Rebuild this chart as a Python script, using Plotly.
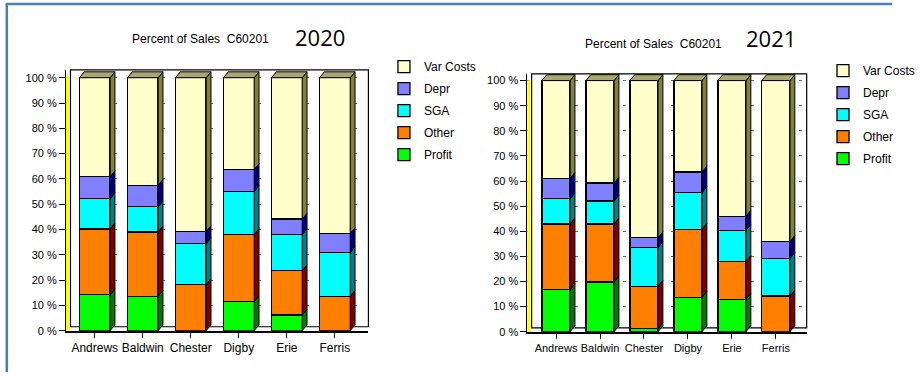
import plotly.graph_objects as go

companies = ["Andrews", "Baldwin", "Chester", "Digby", "Erie", "Ferris"]
series_names = ["Profit", "Other", "SGA", "Depr", "Var Costs"]

# 2020 values (% of sales)
profit_2020 = [14.2, 13.6, 0.0, 11.4, 6.2, 0.0]
other_2020 = [26.0, 25.4, 18.2, 26.6, 17.5, 13.6]
sga_2020 = [12.0, 10.0, 16.2, 17.0, 14.3, 17.3]
depr_2020 = [8.7, 8.5, 4.8, 8.7, 6.1, 7.5]
var_2020 = [39.1, 42.5, 60.8, 36.3, 55.9, 61.6]

# 2021 values (% of sales)
profit_2021 = [16.7, 19.8, 1.2, 13.7, 12.9, 0.0]
other_2021 = [26.2, 23.1, 16.9, 27.0, 15.1, 14.2]
sga_2021 = [10.0, 9.1, 15.4, 14.7, 12.4, 15.0]
depr_2021 = [8.2, 7.2, 3.9, 8.2, 5.6, 6.7]
var_2021 = [38.9, 40.8, 62.6, 36.4, 54.0, 64.1]

y_ticks = [0, 10, 20, 30, 40, 50, 60, 70, 80, 90, 100]
y_tick_labels = ["0 %", "10 %", "20 %", "30 %", "40 %", "50 %", "60 %", "70 %", "80 %", "90 %", "100 %"]

front_colors = ["#00ff00", "#ff8000", "#00ffff", "#8080ff", "#ffffcc"]
side_colors = ["#007a00", "#800000", "#008080", "#000080", "#808040"]
top_color = "#a8a870"

W, H = 920, 378
BAR_W = 0.64
DEPTH_PX = (5, 6)

fig = go.Figure()

panels = [
    dict(year="2020", data=[profit_2020, other_2020, sga_2020, depr_2020, var_2020],
         xa="x", ya="y", legend="legend",
         xdom_px=(68, 380), ydom_px=(71, 336), xr=[-0.6, 5.7], yr=[0, 103.1]),
    dict(year="2021", data=[profit_2021, other_2021, sga_2021, depr_2021, var_2021],
         xa="x2", ya="y2", legend="legend2",
         xdom_px=(544, 832), ydom_px=(75, 337), xr=[-0.65, 5.7], yr=[0, 102.7]),
]

shapes = []
for p in panels:
    n_series = len(series_names)
    for k, (name, vals, col) in enumerate(zip(series_names, p["data"], front_colors)):
        fig.add_trace(go.Bar(
            x=companies, y=vals, name=name, xaxis=p["xa"], yaxis=p["ya"],
            legend=p["legend"], legendgroup=p["year"] + name, legendrank=n_series - k,
            width=BAR_W,
            marker=dict(color=col, line=dict(color="black", width=1.3)),
            hovertemplate="%{x}<br>" + name + ": %{y:.1f}%<extra></extra>",
        ))
    # data units per pixel for 3D side faces
    x_upp = (p["xr"][1] - p["xr"][0]) / (p["xdom_px"][1] - p["xdom_px"][0])
    y_upp = (p["yr"][1] - p["yr"][0]) / (p["ydom_px"][1] - p["ydom_px"][0])
    dx = DEPTH_PX[0] * x_upp
    dy = DEPTH_PX[1] * y_upp
    for i in range(len(companies)):
        base = 0.0
        xr_edge = i + BAR_W / 2
        xl_edge = i - BAR_W / 2
        for s, vals in enumerate(p["data"]):
            v = vals[i]
            if v <= 0:
                continue
            y0, y1 = base, base + v
            path = (f"M {xr_edge},{y0} L {xr_edge + dx},{y0 + dy} "
                    f"L {xr_edge + dx},{y1 + dy} L {xr_edge},{y1} Z")
            shapes.append(dict(type="path", path=path, xref=p["xa"], yref=p["ya"],
                               fillcolor=side_colors[s], line=dict(color="black", width=1),
                               layer="above"))
            base = y1
        top = base
        path = (f"M {xl_edge},{top} L {xl_edge + dx},{top + dy} "
                f"L {xr_edge + dx},{top + dy} L {xr_edge},{top} Z")
        shapes.append(dict(type="path", path=path, xref=p["xa"], yref=p["ya"],
                           fillcolor=top_color, line=dict(color="black", width=1),
                           layer="above"))
    # back wall frame and yellow left wall
    xd = p["xa"] + " domain"
    yd = p["ya"] + " domain"
    shapes.append(dict(type="rect", xref=xd, yref=yd, x0=0.015, x1=1, y0=0.015, y1=1,
                       line=dict(color="black", width=1.2), fillcolor="rgba(0,0,0,0)",
                       layer="below"))
    shapes.append(dict(type="rect", xref=xd, yref=yd, x0=0.0, x1=0.012, y0=0.0, y1=0.975,
                       line=dict(width=0), fillcolor="#ffff00", layer="above"))

# blue slide frame
shapes.append(dict(type="line", xref="paper", yref="paper", x0=6 / W, x1=1,
                   y0=1 - 4 / H, y1=1 - 4 / H, line=dict(color="#4a7ebb", width=2.5)))
shapes.append(dict(type="line", xref="paper", yref="paper", x0=7 / W, x1=7 / W,
                   y0=0, y1=1 - 4 / H, line=dict(color="#4a7ebb", width=2.5)))

chart_font = "Liberation Sans, Arial, sans-serif"

axis_common_x = dict(
    showgrid=False, zeroline=False, showline=True, linecolor="black", linewidth=2,
    ticks="outside", ticklen=5, tickcolor="black", tickangle=0,
    tickfont=dict(family=chart_font, size=12, color="black"),
    fixedrange=True,
)
axis_common_y = dict(
    tickmode="array", tickvals=y_ticks, ticktext=y_tick_labels,
    showgrid=True, gridcolor="#707070",
    griddash="3px,13px", gridwidth=1, zeroline=False, showline=True,
    linecolor="black", linewidth=1, ticks="outside", ticklen=6, tickcolor="black",
    tickfont=dict(family=chart_font, size=11, color="black"), fixedrange=True,
)

p0, p1 = panels
legend_common = dict(xanchor="left", yanchor="top", traceorder="grouped",
                     font=dict(family=chart_font, size=12, color="black"),
                     bgcolor="rgba(0,0,0,0)", itemwidth=30, tracegroupgap=3)
fig.update_layout(
    width=W, height=H, margin=dict(l=0, r=0, t=0, b=0),
    paper_bgcolor="white", plot_bgcolor="white",
    barmode="stack", bargap=0.36, showlegend=True,
    xaxis=dict(domain=[p0["xdom_px"][0] / W, p0["xdom_px"][1] / W], range=p0["xr"],
               anchor="y", **axis_common_x),
    yaxis=dict(domain=[1 - p0["ydom_px"][1] / H, 1 - p0["ydom_px"][0] / H], range=p0["yr"],
               anchor="x", **axis_common_y),
    xaxis2=dict(domain=[p1["xdom_px"][0] / W, p1["xdom_px"][1] / W], range=p1["xr"],
                anchor="y2", **{**axis_common_x, "tickfont": dict(family=chart_font, size=11, color="black")}),
    yaxis2=dict(domain=[1 - p1["ydom_px"][1] / H, 1 - p1["ydom_px"][0] / H], range=p1["yr"],
                anchor="x2", **axis_common_y),
    legend=dict(x=396 / W, y=1 - 53 / H, **legend_common),
    legend2=dict(x=849 / W, y=1 - 57 / H, **legend_common),
    shapes=shapes,
    annotations=[
        dict(text="Percent of Sales  C60201", x=207 / W, y=1 - 40 / H, xref="paper", yref="paper",
             xanchor="center", yanchor="middle", showarrow=False,
             font=dict(family=chart_font, size=12, color="black")),
        dict(text="2020", x=330 / W, y=1 - 38 / H, xref="paper", yref="paper",
             xanchor="center", yanchor="middle", showarrow=False,
             font=dict(family="Open Sans, Liberation Sans, sans-serif", size=22, color="black")),
        dict(text="Percent of Sales  C60201", x=674 / W, y=1 - 45 / H, xref="paper", yref="paper",
             xanchor="center", yanchor="middle", showarrow=False,
             font=dict(family=chart_font, size=12, color="black")),
        dict(text="2021", x=795 / W, y=1 - 39 / H, xref="paper", yref="paper",
             xanchor="center", yanchor="middle", showarrow=False,
             font=dict(family="Open Sans, Liberation Sans, sans-serif", size=22, color="black")),
    ],
)

fig.write_html("out.html")
